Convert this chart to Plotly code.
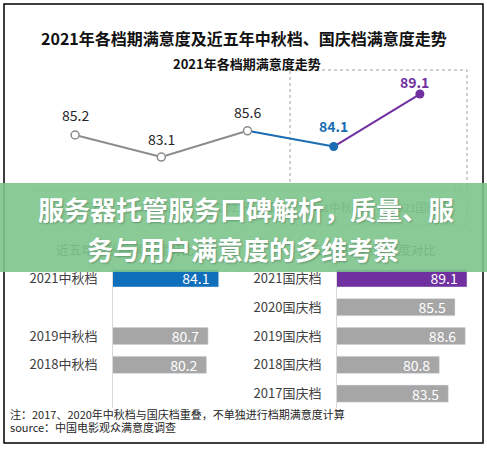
import plotly.graph_objects as go

W, H = 487, 457
FONT = "Noto Sans CJK SC"

# ---------------- data ----------------
line_labels = ["2021春节档", "2021暑期档", "2021七夕档", "2021中秋档", "2021国庆档"]
line_values = [85.2, 83.1, 85.6, 84.1, 89.1]

autumn_labels = ["2021中秋档", "2020中秋档", "2019中秋档", "2018中秋档", "2017中秋档"]
autumn_values = [84.1, None, 80.7, 80.2, None]

national_labels = ["2021国庆档", "2020国庆档", "2019国庆档", "2018国庆档", "2017国庆档"]
national_values = [89.1, 85.5, 88.6, 80.8, 83.5]

title_text = "2021年各档期满意度及近五年中秋档、国庆档满意度走势"
subtitle_text = "2021年各档期满意度走势"
left_title = "近五年中秋档满意度对比"
right_title = "近五年国庆档满意度对比"
banner_lines = ["服务器托管服务口碑解析，质量、服", "务与用户满意度的多维考察"]
note_lines = ["注：2017、2020年中秋档与国庆档重叠，不单独进行档期满意度计算",
              "source：中国电影观众满意度调查"]

# ---------------- styles ----------------
GRAY = "#8c8c8c"
BLUE = "#1b6db3"
PURPLE = "#7030a0"
BAR_GRAY = "#a6a6a6"
BAR_BLUE = "#0f6fba"


def px(x):
    return x / W


def py(y):
    return 1 - y / H


y_lo, y_hi = 79.96, 91.39

fig = go.Figure()
idx = list(range(len(line_labels)))

# line segments
fig.add_trace(go.Scatter(x=idx[0:3], y=line_values[0:3], mode="lines",
                         line=dict(color=GRAY, width=2), xaxis="x", yaxis="y",
                         hoverinfo="skip", showlegend=False))
fig.add_trace(go.Scatter(x=idx[2:4], y=line_values[2:4], mode="lines",
                         line=dict(color=BLUE, width=2), xaxis="x", yaxis="y",
                         hoverinfo="skip", showlegend=False))
fig.add_trace(go.Scatter(x=idx[3:5], y=line_values[3:5], mode="lines",
                         line=dict(color=PURPLE, width=2), xaxis="x", yaxis="y",
                         hoverinfo="skip", showlegend=False))
# markers
fig.add_trace(go.Scatter(x=idx[0:3], y=line_values[0:3], mode="markers",
                         marker=dict(color="white", size=8, line=dict(color=GRAY, width=1.5)),
                         xaxis="x", yaxis="y", showlegend=False, cliponaxis=False))
fig.add_trace(go.Scatter(x=[idx[3]], y=[line_values[3]], mode="markers",
                         marker=dict(color=BLUE, size=9), xaxis="x", yaxis="y",
                         showlegend=False, cliponaxis=False))
fig.add_trace(go.Scatter(x=[idx[4]], y=[line_values[4]], mode="markers",
                         marker=dict(color=PURPLE, size=9), xaxis="x", yaxis="y",
                         showlegend=False, cliponaxis=False))
# axis arrow head
fig.add_trace(go.Scatter(x=[len(idx) - 0.5], y=[y_lo], mode="markers",
                         marker=dict(symbol="arrow-right-open", color="#bfbfbf", size=8,
                                     line=dict(color="#bfbfbf", width=1)),
                         xaxis="x", yaxis="y", showlegend=False, cliponaxis=False,
                         hoverinfo="skip"))

# data labels on the line
label_styles = [
    dict(color="#262626", bold=False, yshift=20, xshift=0),
    dict(color="#262626", bold=False, yshift=18, xshift=0),
    dict(color="#262626", bold=False, yshift=19, xshift=0),
    dict(color=BLUE, bold=True, yshift=21, xshift=0),
    dict(color=PURPLE, bold=True, yshift=12, xshift=-5),
]
for i, v in enumerate(line_values):
    s = label_styles[i]
    txt = f"{v:.1f}"
    if s["bold"]:
        txt = f"<b>{txt}</b>"
    fig.add_annotation(x=i, y=v, xref="x", yref="y", text=txt, showarrow=False,
                       yshift=s["yshift"], xshift=s["xshift"],
                       font=dict(family=FONT, size=14, color=s["color"]))

# bars
fig.add_trace(go.Bar(y=autumn_labels, x=autumn_values, orientation="h",
                     marker=dict(color=[BAR_BLUE] + [BAR_GRAY] * 4), width=0.6,
                     texttemplate="%{x:.1f}\u00a0\u00a0", textposition="inside",
                     insidetextanchor="end", constraintext="none",
                     textfont=dict(family=FONT, size=14, color="white"),
                     xaxis="x2", yaxis="y2", showlegend=False))
fig.add_trace(go.Bar(y=national_labels, x=national_values, orientation="h",
                     marker=dict(color=[PURPLE] + [BAR_GRAY] * 4), width=0.6,
                     texttemplate="%{x:.1f}\u00a0\u00a0", textposition="inside",
                     insidetextanchor="end", constraintext="none",
                     textfont=dict(family=FONT, size=14, color="white"),
                     xaxis="x3", yaxis="y3", showlegend=False))

# panel titles (under the banner) on an overlay pixel axis
fig.add_trace(go.Scatter(x=[125, 367], y=[252, 252], mode="text",
                         text=[left_title, right_title],
                         textfont=dict(family=FONT, size=12.5, color="#404040"),
                         xaxis="x4", yaxis="y4", showlegend=False, hoverinfo="skip"))

bar_dom = [py(408), py(264)]
tick_font = dict(family=FONT, size=13, color="#404040")
autumn_ticktext = [lab if val is not None else "" for lab, val in zip(autumn_labels, autumn_values)]

fig.update_layout(
    width=W, height=H, autosize=False,
    margin=dict(l=0, r=0, t=0, b=0),
    paper_bgcolor="white", plot_bgcolor="rgba(0,0,0,0)",
    bargap=0.4,
    xaxis=dict(domain=[px(32), px(463)], range=[-0.5, len(idx) - 0.5],
               tickmode="array", tickvals=idx, ticktext=line_labels,
               showline=True, linecolor="#bfbfbf", linewidth=1,
               showgrid=False, zeroline=False, ticks="",
               tickfont=dict(family=FONT, size=11, color="#595959"),
               ticklabelstandoff=8, anchor="y", fixedrange=True),
    yaxis=dict(domain=[py(190), py(70)], range=[y_lo, y_hi], visible=False,
               anchor="x", fixedrange=True),
    xaxis2=dict(domain=[px(113), px(237)], range=[50, 90], visible=False,
                anchor="y2", fixedrange=True),
    yaxis2=dict(domain=bar_dom, type="category", categoryorder="array",
                categoryarray=autumn_labels, range=[4.5, -0.5],
                tickmode="array", tickvals=autumn_labels, ticktext=autumn_ticktext,
                showline=True, linecolor="#d9d9d9", linewidth=1, ticks="",
                showgrid=False, zeroline=False, tickfont=tick_font,
                ticklabelstandoff=12, anchor="x2", fixedrange=True),
    xaxis3=dict(domain=[px(337), px(470)], range=[50, 90], visible=False,
                anchor="y3", fixedrange=True),
    yaxis3=dict(domain=bar_dom, type="category", categoryorder="array",
                categoryarray=national_labels, range=[4.5, -0.5],
                showline=True, linecolor="#d9d9d9", linewidth=1, ticks="",
                showgrid=False, zeroline=False, tickfont=tick_font,
                ticklabelstandoff=12, anchor="x3", fixedrange=True),
    xaxis4=dict(domain=[0, 1], range=[0, W], visible=False, anchor="y4", fixedrange=True),
    yaxis4=dict(domain=[0, 1], range=[H, 0], visible=False, anchor="x4", fixedrange=True),
)

# frame, dotted highlight box, banner
fig.add_shape(type="rect", xref="paper", yref="paper",
              x0=px(4), x1=px(483), y0=py(443), y1=py(4),
              line=dict(color="black", width=1.5), fillcolor="rgba(0,0,0,0)",
              layer="below")
fig.add_shape(type="rect", xref="paper", yref="paper",
              x0=px(290), x1=px(467), y0=py(225), y1=py(70),
              line=dict(color="#a0a0a0", width=1, dash="dot"),
              fillcolor="rgba(0,0,0,0)", layer="below")
fig.add_shape(type="rect", xref="paper", yref="paper",
              x0=0, x1=1, y0=py(272), y1=py(183),
              line=dict(width=0), fillcolor="rgb(124,196,140)", opacity=0.9,
              layer="above")

# titles
fig.add_annotation(x=px(243.5), y=py(24), xref="paper", yref="paper",
                   text=f"<b>{title_text}</b>", showarrow=False,
                   font=dict(family=FONT, size=16, color="#111111"))
fig.add_annotation(x=px(247), y=py(52), xref="paper", yref="paper",
                   text=f"<b>{subtitle_text}</b>", showarrow=False,
                   font=dict(family=FONT, size=13, color="#111111"))

# banner text
for t, yc, xc in zip(banner_lines, [208, 248], [246, 243]):
    fig.add_annotation(x=px(xc), y=py(yc), xref="paper", yref="paper",
                       text=f"<b>{t}</b>", showarrow=False,
                       font=dict(family=FONT, size=26, color="white",
                                 shadow="1px 1px 2px rgba(0,0,0,0.25)"))

# footnotes
for t, yc in zip(note_lines, [424, 437]):
    fig.add_annotation(x=px(8), y=py(yc), xref="paper", yref="paper",
                       text=t, showarrow=False, xanchor="left",
                       font=dict(family=FONT, size=11, color="#262626"))

fig.write_html("out.html", config={"displayModeBar": False},
               post_script="document.body.style.margin='0';document.body.style.padding='0';")
